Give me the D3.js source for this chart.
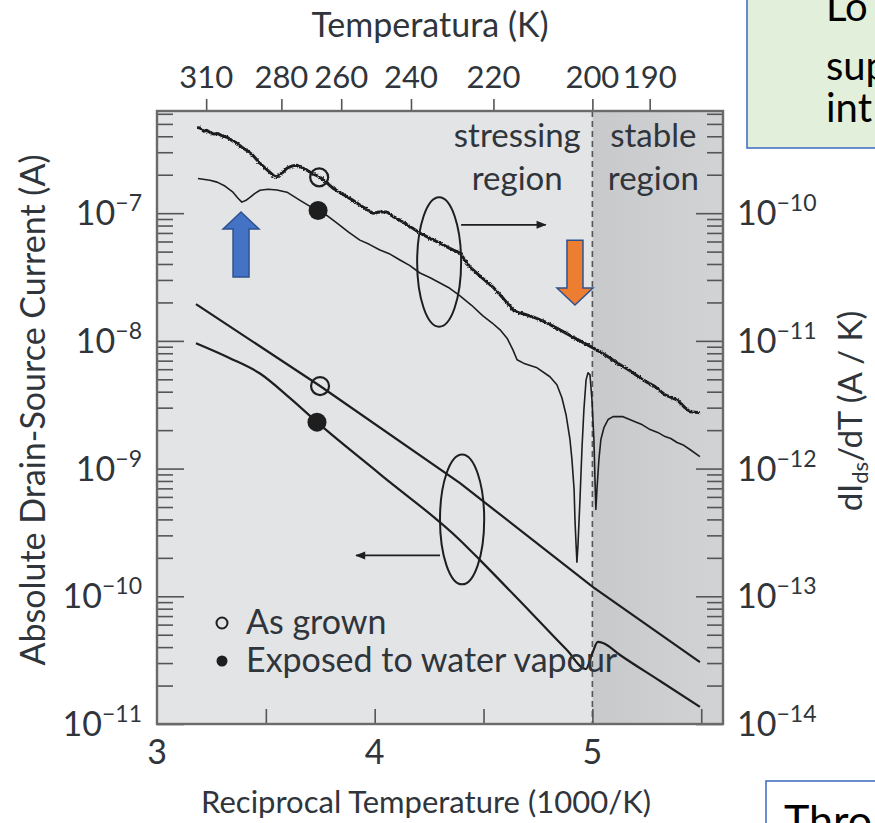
<!DOCTYPE html>
<html>
<head>
<meta charset="utf-8">
<script src="https://cdn.jsdelivr.net/npm/d3@7"></script>
<style>
  body { margin: 0; background: #fff; }
  svg { display: block; font-family: Lato, "Open Sans", sans-serif; }
</style>
</head>
<body>
<svg id="chart" width="875" height="823"></svg>
<script>
// ---- Data: reciprocal temperature (1000/K) vs current / derivative ----

// dIds/dT, as-grown device (A/K, right axis) — thick noisy trace
const derivGrown = [
  [3.184, 4.70e-10], [3.200, 4.62e-10], [3.214, 4.38e-10], [3.228, 4.45e-10],
  [3.243, 4.30e-10], [3.262, 4.16e-10], [3.280, 4.20e-10], [3.300, 4.02e-10],
  [3.322, 3.93e-10], [3.345, 3.70e-10], [3.365, 3.55e-10], [3.390, 3.28e-10],
  [3.413, 3.10e-10], [3.440, 2.84e-10], [3.473, 2.46e-10], [3.497, 2.25e-10],
  [3.519, 2.09e-10], [3.537, 1.96e-10], [3.551, 1.91e-10], [3.565, 2.02e-10],
  [3.579, 2.09e-10], [3.597, 2.25e-10], [3.620, 2.34e-10], [3.643, 2.37e-10],
  [3.665, 2.28e-10], [3.689, 2.17e-10], [3.720, 2.02e-10], [3.749, 1.91e-10],
  [3.778, 1.74e-10], [3.808, 1.57e-10], [3.850, 1.42e-10], [3.900, 1.26e-10],
  [3.945, 1.12e-10], [3.992, 1.00e-10], [4.024, 1.02e-10], [4.057, 1.02e-10],
  [4.085, 9.40e-11], [4.116, 8.81e-11], [4.160, 7.90e-11], [4.208, 6.98e-11],
  [4.255, 6.35e-11], [4.300, 5.83e-11], [4.345, 5.30e-11], [4.392, 4.86e-11],
  [4.438, 3.78e-11], [4.484, 3.22e-11], [4.543, 2.64e-11], [4.589, 2.17e-11],
  [4.635, 1.75e-11], [4.660, 1.66e-11], [4.681, 1.63e-11], [4.727, 1.54e-11],
  [4.782, 1.41e-11], [4.851, 1.22e-11], [4.920, 1.05e-11], [5.003, 8.81e-12],
  [5.058, 7.78e-12], [5.113, 6.73e-12], [5.173, 5.83e-12], [5.232, 4.95e-12],
  [5.288, 4.38e-12], [5.334, 3.78e-12], [5.389, 3.46e-12], [5.425, 3.00e-12],
  [5.448, 2.79e-12], [5.494, 2.74e-12]
];

// dIds/dT, device exposed to water vapour (A/K, right axis) — thin trace
const derivExposed = [
  [3.188, 1.87e-10], [3.243, 1.81e-10], [3.276, 1.75e-10], [3.312, 1.63e-10],
  [3.349, 1.46e-10], [3.372, 1.31e-10], [3.390, 1.22e-10], [3.409, 1.26e-10],
  [3.427, 1.33e-10], [3.450, 1.43e-10], [3.473, 1.51e-10], [3.510, 1.54e-10],
  [3.551, 1.52e-10], [3.597, 1.46e-10], [3.657, 1.26e-10], [3.703, 1.13e-10],
  [3.740, 1.05e-10], [3.780, 9.60e-11], [3.827, 8.35e-11], [3.880, 7.10e-11],
  [3.932, 6.15e-11], [3.975, 5.70e-11], [4.024, 5.14e-11], [4.070, 4.78e-11],
  [4.116, 4.30e-11], [4.160, 3.90e-11], [4.208, 3.40e-11], [4.255, 3.12e-11],
  [4.300, 2.84e-11], [4.345, 2.58e-11], [4.392, 2.25e-11], [4.445, 1.90e-11],
  [4.497, 1.57e-11], [4.540, 1.38e-11], [4.576, 1.22e-11], [4.608, 1.05e-11],
  [4.635, 8.51e-12], [4.654, 7.11e-12], [4.690, 6.61e-12], [4.746, 6.15e-12],
  [4.805, 5.24e-12], [4.837, 4.53e-12], [4.860, 3.59e-12], [4.879, 2.64e-12],
  [4.897, 1.69e-12], [4.906, 1.18e-12], [4.916, 6.85e-13], [4.920, 4.00e-13],
  [4.925, 2.55e-13], [4.929, 1.85e-13], [4.934, 2.55e-13], [4.943, 5.73e-13],
  [4.952, 1.41e-12], [4.961, 2.89e-12], [4.971, 4.95e-12], [4.980, 5.62e-12],
  [4.989, 5.42e-12], [4.998, 3.46e-12], [5.007, 1.69e-12], [5.012, 8.20e-13],
  [5.016, 4.79e-13], [5.021, 6.85e-13], [5.030, 1.18e-12], [5.039, 1.69e-12],
  [5.053, 2.09e-12], [5.072, 2.42e-12], [5.095, 2.55e-12], [5.141, 2.55e-12],
  [5.196, 2.33e-12], [5.230, 2.20e-12], [5.265, 2.02e-12], [5.300, 1.92e-12],
  [5.334, 1.78e-12], [5.360, 1.72e-12], [5.389, 1.60e-12], [5.420, 1.52e-12],
  [5.448, 1.41e-12], [5.494, 1.24e-12]
];

// Ids, as-grown device (A, left axis)
const currentGrown = [
  [3.179, 1.94e-8], [3.749, 4.43e-9], [4.392, 7.69e-10], [5.003, 1.18e-10], [5.494, 3.05e-11]
];

// Ids, device exposed to water vapour (A, left axis)
const currentExposed = [
  [3.179, 9.59e-9], [3.335, 7.32e-9], [3.473, 5.55e-9], [3.611, 3.56e-9],
  [3.735, 2.31e-9], [4.024, 9.06e-10], [4.392, 2.75e-10], [4.484, 1.92e-10],
  [4.667, 9.18e-11], [4.883, 3.79e-11], [4.970, 2.69e-11], [5.000, 3.60e-11],
  [5.025, 4.40e-11], [5.049, 4.31e-11], [5.127, 3.47e-11], [5.311, 2.17e-11],
  [5.494, 1.36e-11]
];

// Symbols marking each trace (open = as grown, filled = exposed)
const markers = [
  { x: 3.745, y: 1.91e-10, axis: "D", filled: false },
  { x: 3.740, y: 1.05e-10, axis: "D", filled: true },
  { x: 3.749, y: 4.43e-9,  axis: "I", filled: false },
  { x: 3.735, y: 2.31e-9,  axis: "I", filled: true }
];

// Axis ticks
const bottomTicks = [3.5, 4, 4.5, 5, 5.5];
const bottomLabels = [3, 4, 5];
const topTemps = [310, 280, 260, 240, 220, 200, 190];
const leftExponents = [-7, -8, -9, -10, -11];
const rightExponents = [-10, -11, -12, -13, -14];
const regionBoundary = 5.0;

// Bracketing ellipses with arrows pointing to the relevant axis (left-axis units)
const brackets = [
  { x0: 4.195, x1: 4.397, yTop: 1.33e-7, yBot: 1.29e-8, arrowY: 8.1e-8, arrowFrom: 4.397, arrowTo: 4.785 },
  { x0: 4.300, x1: 4.503, yTop: 1.29e-9, yBot: 1.24e-10, arrowY: 2.09e-10, arrowFrom: 4.300, arrowTo: 3.915 }
];

// Block arrows highlighting features (left-axis units)
const highlights = [
  { x: 3.386, tip: 1.02e-7, tail: 3.16e-8, fill: "#4472c4" },
  { x: 4.920, tip: 1.91e-8, tail: 6.15e-8, fill: "#ed7d31" }
];

// ---- Layout ----
const plot = { left: 157, right: 723, top: 111, bottom: 724 };
const textColor = "#2f353b";
const ink = "#1e1e1e";

const svg = d3.select("#chart");

const x = d3.scaleLinear().domain([3, 5.6]).range([plot.left, plot.right]);
const yI = d3.scaleLog().domain([1e-11, Math.pow(10, -6.2)]).range([plot.bottom, plot.top]);
const yD = d3.scaleLog().domain([1e-14, Math.pow(10, -9.2)]).range([plot.bottom, plot.top]);

// Background regions
const defs = svg.append("defs");
const grad = defs.append("linearGradient").attr("id", "stableFill")
  .attr("x1", "0%").attr("x2", "100%").attr("y1", "0%").attr("y2", "0%");
grad.append("stop").attr("offset", "0%").attr("stop-color", "#c8c9cb");
grad.append("stop").attr("offset", "100%").attr("stop-color", "#d2d3d5");
defs.append("clipPath").attr("id", "plotClip").append("rect")
  .attr("x", plot.left).attr("y", plot.top)
  .attr("width", plot.right - plot.left).attr("height", plot.bottom - plot.top);

// Slight roughening of the thick measured trace (pen jitter of the record)
const rough = defs.append("filter").attr("id", "rough")
  .attr("x", "-5%").attr("y", "-5%").attr("width", "110%").attr("height", "110%");
rough.append("feTurbulence").attr("type", "fractalNoise").attr("baseFrequency", 0.6)
  .attr("numOctaves", 2).attr("seed", 3).attr("result", "noise");
rough.append("feDisplacementMap").attr("in", "SourceGraphic").attr("in2", "noise")
  .attr("scale", 3).attr("xChannelSelector", "R").attr("yChannelSelector", "G");

svg.append("rect")
  .attr("x", x(3)).attr("y", plot.top)
  .attr("width", x(regionBoundary) - x(3)).attr("height", plot.bottom - plot.top)
  .attr("fill", "#e3e4e6");
svg.append("rect")
  .attr("x", x(regionBoundary)).attr("y", plot.top)
  .attr("width", x(5.6) - x(regionBoundary)).attr("height", plot.bottom - plot.top)
  .attr("fill", "url(#stableFill)");

// Region boundary
svg.append("line")
  .attr("x1", x(regionBoundary)).attr("x2", x(regionBoundary))
  .attr("y1", plot.top).attr("y2", plot.bottom)
  .attr("stroke", "#555").attr("stroke-width", 1.6).attr("stroke-dasharray", "6,4");

// Region captions
const caption = svg.append("g").attr("fill", textColor).attr("font-size", 33).attr("text-anchor", "middle");
[["stressing", 4.655], ["stable", 5.28]].forEach(([w, cx]) => {
  caption.append("text").attr("x", x(cx)).attr("y", 147).text(w);
  caption.append("text").attr("x", x(cx)).attr("y", 190).text("region");
});

// ---- Axes ----
function minorTicks(lo, hi) {
  const out = [];
  for (let e = lo; e < hi; e++) for (let m = 2; m <= 9; m++) out.push(m * Math.pow(10, e));
  return out;
}
function styleAxis(g) {
  g.select(".domain").remove();
  g.selectAll(".tick line").attr("stroke", "#555").attr("stroke-width", 1.6);
}

const leftMajor = leftExponents.map(e => Math.pow(10, e));
const leftMinor = minorTicks(-11, -6).filter(v => v < yI.domain()[1]);
const rightMajor = rightExponents.map(e => Math.pow(10, e));
const rightMinor = minorTicks(-14, -9).filter(v => v < yD.domain()[1]);

svg.append("g").attr("transform", `translate(${plot.left},0)`)
  .call(d3.axisLeft(yI).tickValues(leftMajor).tickSize(-27).tickFormat(""))
  .call(styleAxis);
svg.append("g").attr("transform", `translate(${plot.left},0)`)
  .call(d3.axisLeft(yI).tickValues(leftMinor).tickSize(-16).tickFormat(""))
  .call(styleAxis);
svg.append("g").attr("transform", `translate(${plot.right},0)`)
  .call(d3.axisRight(yD).tickValues(rightMajor).tickSize(-27).tickFormat(""))
  .call(styleAxis);
svg.append("g").attr("transform", `translate(${plot.right},0)`)
  .call(d3.axisRight(yD).tickValues(rightMinor).tickSize(-16).tickFormat(""))
  .call(styleAxis);
svg.append("g").attr("transform", `translate(0,${plot.bottom})`)
  .call(d3.axisBottom(x).tickValues(bottomTicks).tickSize(-15).tickFormat(""))
  .call(styleAxis);
svg.append("g").attr("transform", `translate(0,${plot.top})`)
  .call(d3.axisTop(x).tickValues(topTemps.map(t => 1000 / t)).tickSize(12).tickFormat(""))
  .call(styleAxis);

// Tick labels
function powerLabel(g, xPos, yPos, exp, anchor) {
  const t = g.append("text").attr("x", xPos).attr("y", yPos + 12)
    .attr("text-anchor", anchor).attr("font-size", 34);
  t.append("tspan").text("10");
  t.append("tspan").attr("dy", -14).attr("font-size", 23).text("\u2212" + Math.abs(exp));
}
const labels = svg.append("g").attr("fill", textColor);
leftExponents.forEach(e => powerLabel(labels, plot.left - 15, yI(Math.pow(10, e)), e, "end"));
rightExponents.forEach(e => powerLabel(labels, plot.right + 14, yD(Math.pow(10, e)), e, "start"));

labels.selectAll(".bl").data(bottomLabels).join("text")
  .attr("x", d => x(d)).attr("y", 764).attr("text-anchor", "middle")
  .attr("font-size", 34).text(d => d);
labels.selectAll(".tl").data(topTemps).join("text")
  .attr("x", d => x(1000 / d)).attr("y", 88).attr("text-anchor", "middle")
  .attr("font-size", 31).text(d => d);

// Axis titles
labels.append("text").attr("x", 430).attr("y", 37).attr("text-anchor", "middle")
  .attr("font-size", 34).text("Temperatura (K)");
labels.append("text").attr("x", 426).attr("y", 813).attr("text-anchor", "middle")
  .attr("font-size", 31).text("Reciprocal Temperature (1000/K)");
labels.append("text").attr("transform", "translate(45,410) rotate(-90)")
  .attr("text-anchor", "middle").attr("font-size", 34).text("Absolute Drain-Source Current (A)");
const rt = labels.append("text").attr("transform", "translate(862,411) rotate(-90)")
  .attr("text-anchor", "middle").attr("font-size", 33);
rt.append("tspan").text("dI");
rt.append("tspan").attr("font-size", 22).attr("dy", 6).text("ds");
rt.append("tspan").attr("dy", -6).text("/dT (A / K)");

// ---- Traces ----
const traces = svg.append("g").attr("clip-path", "url(#plotClip)");
const lineD = d3.line().x(d => x(d[0])).y(d => yD(d[1]));
const lineI = d3.line().x(d => x(d[0])).y(d => yI(d[1]));

traces.append("g").attr("filter", "url(#rough)")
  .append("path").datum(derivGrown).attr("d", lineD)
  .attr("fill", "none").attr("stroke", ink).attr("stroke-width", 3).attr("stroke-linejoin", "round");
traces.append("path").datum(derivExposed).attr("d", lineD)
  .attr("fill", "none").attr("stroke", ink).attr("stroke-width", 1.6).attr("stroke-linejoin", "round");
traces.append("path").datum(currentGrown).attr("d", lineI)
  .attr("fill", "none").attr("stroke", ink).attr("stroke-width", 2.2);
traces.append("path").datum(currentExposed).attr("d", lineI.curve(d3.curveMonotoneX))
  .attr("fill", "none").attr("stroke", ink).attr("stroke-width", 2.2);

traces.selectAll(".mk").data(markers).join("circle")
  .attr("cx", d => x(d.x))
  .attr("cy", d => (d.axis === "D" ? yD : yI)(d.y))
  .attr("r", d => d.filled ? 9.5 : 9)
  .attr("fill", d => d.filled ? ink : "none")
  .attr("stroke", ink).attr("stroke-width", d => d.filled ? 0 : 2.2);

// Brackets and pointer arrows
defs.append("marker").attr("id", "arrowHead").attr("viewBox", "0 0 10 10")
  .attr("refX", 9).attr("refY", 5).attr("markerWidth", 12).attr("markerHeight", 10)
  .attr("markerUnits", "userSpaceOnUse").attr("orient", "auto")
  .append("path").attr("d", "M0,1 L10,5 L0,9 Z").attr("fill", ink);

brackets.forEach(b => {
  const cx = (x(b.x0) + x(b.x1)) / 2, cy = (yI(b.yTop) + yI(b.yBot)) / 2;
  traces.append("ellipse").attr("cx", cx).attr("cy", cy)
    .attr("rx", (x(b.x1) - x(b.x0)) / 2).attr("ry", (yI(b.yBot) - yI(b.yTop)) / 2)
    .attr("fill", "none").attr("stroke", ink).attr("stroke-width", 2);
  traces.append("line")
    .attr("x1", x(b.arrowFrom)).attr("x2", x(b.arrowTo))
    .attr("y1", yI(b.arrowY)).attr("y2", yI(b.arrowY))
    .attr("stroke", ink).attr("stroke-width", 1.6).attr("marker-end", "url(#arrowHead)");
});

// Legend
const legend = svg.append("g").attr("fill", textColor).attr("font-size", 34);
[["As grown", false, 634], ["Exposed to water vapour", true, 672]].forEach(([label, filled, base]) => {
  legend.append("circle").attr("cx", 222).attr("cy", base - 11).attr("r", 5.5)
    .attr("fill", filled ? ink : "none").attr("stroke", ink).attr("stroke-width", filled ? 0 : 2);
  legend.append("text").attr("x", 246).attr("y", base).text(label);
});

// Frame
svg.append("rect")
  .attr("x", plot.left).attr("y", plot.top)
  .attr("width", plot.right - plot.left).attr("height", plot.bottom - plot.top)
  .attr("fill", "none").attr("stroke", "#6a6a6a").attr("stroke-width", 2.4);

// Block arrows
highlights.forEach(h => {
  const cx = x(h.x), yt = yI(h.tip), yb = yI(h.tail);
  const dir = yb > yt ? 1 : -1;          // +1 arrow points up, -1 points down
  const headLen = 17, headHalf = 18, shaftHalf = 8;
  const yh = yt + dir * headLen;
  const p = d3.path();
  p.moveTo(cx, yt);
  p.lineTo(cx + headHalf, yh);
  p.lineTo(cx + shaftHalf, yh);
  p.lineTo(cx + shaftHalf, yb);
  p.lineTo(cx - shaftHalf, yb);
  p.lineTo(cx - shaftHalf, yh);
  p.lineTo(cx - headHalf, yh);
  p.closePath();
  svg.append("path").attr("d", p.toString())
    .attr("fill", h.fill).attr("stroke", "#2f528f").attr("stroke-width", 1.5);
});

// Side notes (cropped at the page edge)
const note = svg.append("g").attr("fill", "#000");
note.append("rect").attr("x", 747).attr("y", -10).attr("width", 140).attr("height", 158)
  .attr("fill", "#e2efda").attr("stroke", "#4472c4").attr("stroke-width", 1.6);
[["Lo", 21], ["sup", 80], ["int", 122]].forEach(([t, yy]) =>
  note.append("text").attr("x", 826).attr("y", yy).attr("font-size", 40).text(t));
note.append("rect").attr("x", 766).attr("y", 781).attr("width", 130).attr("height", 60)
  .attr("fill", "#fff").attr("stroke", "#4472c4").attr("stroke-width", 1.6);
note.append("text").attr("x", 784).attr("y", 836).attr("font-size", 43).text("Thro");
</script>
</body>
</html>
